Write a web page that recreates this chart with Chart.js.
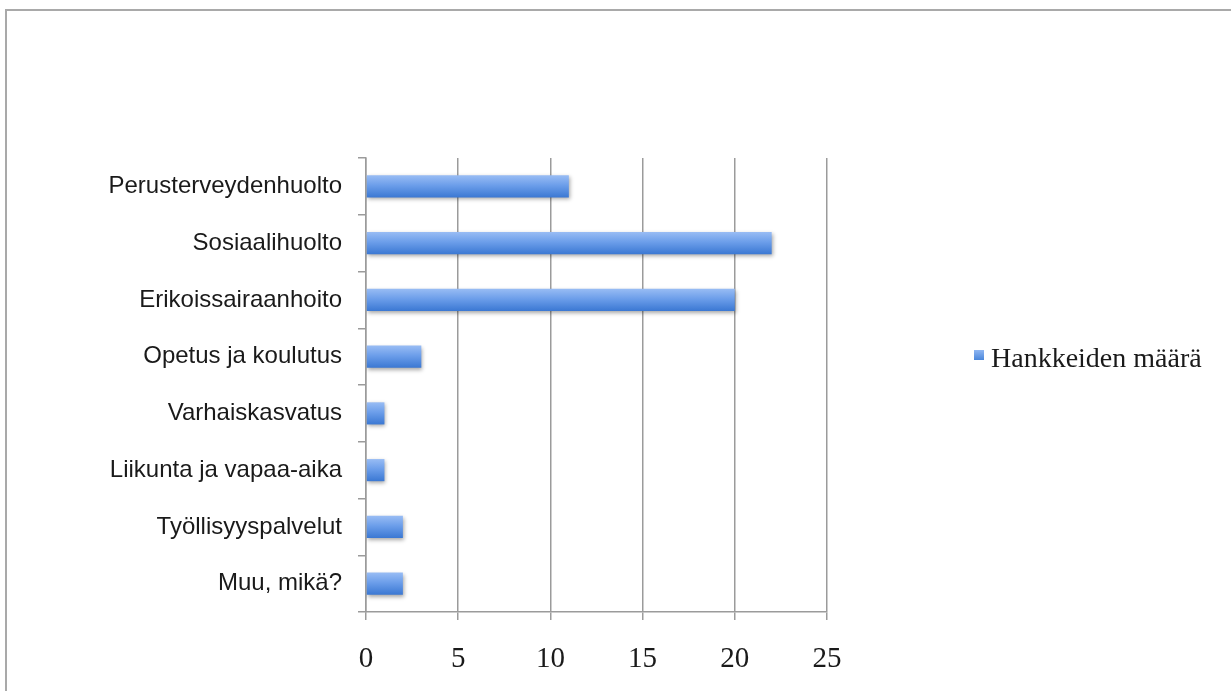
<!DOCTYPE html>
<html>
<head>
<meta charset="utf-8">
<script src="https://cdn.jsdelivr.net/npm/chart.js@4/dist/chart.umd.min.js"></script>
<style>
  html, body { margin: 0; padding: 0; background: #fff; }
  body { width: 1231px; height: 691px; overflow: hidden; position: relative; }
  #frame { position: absolute; left: 5px; top: 9px; width: 1300px; height: 800px;
           border-left: 2px solid #a9a9a9; border-top: 2px solid #a9a9a9; }
  #wrap { position: absolute; left: 0; top: 0; width: 1231px; height: 691px; }
</style>
</head>
<body>
<div id="frame"></div>
<div id="wrap"><canvas id="c" width="1231" height="691"></canvas></div>
<script>
// Hankkeiden määrä toimialoittain
const categories = [
  'Perusterveydenhuolto',
  'Sosiaalihuolto',
  'Erikoissairaanhoito',
  'Opetus ja koulutus',
  'Varhaiskasvatus',
  'Liikunta ja vapaa-aika',
  'Työllisyyspalvelut',
  'Muu, mikä?'
];
const seriesName = 'Hankkeiden määrä';
const counts = [11, 22, 20, 3, 1, 1, 2, 2];
const axisMin = 0;
const axisMax = 25;
const axisStep = 5;

const gridGray = '#9b9b9b';
const serifFont = '"Liberation Serif", "DejaVu Serif", serif';
const sansFont = '"Liberation Sans", Arial, sans-serif';

// vertical gradient for each bar
function barFill(ctx) {
  const chart = ctx.chart;
  const y = chart.scales && chart.scales.y;
  if (!chart.chartArea || !y || ctx.dataIndex === undefined) return '#6a9be6';
  const c = y.getPixelForValue(ctx.dataIndex);
  const half = 11;
  const g = chart.ctx.createLinearGradient(0, c - half, 0, c + half);
  g.addColorStop(0, '#98bcf4');
  g.addColorStop(0.45, '#6c9eea');
  g.addColorStop(1, '#3b78d3');
  return g;
}

// soft drop shadow under the bars
const barShadow = {
  id: 'barShadow',
  beforeDatasetsDraw(chart) {
    const ctx = chart.ctx;
    ctx.save();
    ctx.shadowColor = 'rgba(0,0,0,0.35)';
    ctx.shadowBlur = 4;
    ctx.shadowOffsetX = 1;
    ctx.shadowOffsetY = 2;
  },
  afterDatasetsDraw(chart) {
    chart.ctx.restore();
  }
};

// series key in the right-hand margin
const seriesKey = {
  id: 'seriesKey',
  afterDraw(chart) {
    const ctx = chart.ctx;
    const x = chart.chartArea.right + 147;
    const cy = 355;
    ctx.save();
    const g = ctx.createLinearGradient(0, cy - 5, 0, cy + 5);
    g.addColorStop(0, '#8fb6f2');
    g.addColorStop(1, '#4a86da');
    ctx.fillStyle = g;
    ctx.fillRect(x, cy - 5, 10, 10);
    ctx.fillStyle = '#1a1a1a';
    ctx.font = '28px ' + serifFont;
    ctx.textBaseline = 'alphabetic';
    ctx.textAlign = 'left';
    ctx.fillText(seriesName, x + 17, cy + 12);
    ctx.restore();
  }
};

new Chart(document.getElementById('c'), {
  type: 'bar',
  data: {
    labels: categories,
    datasets: [{
      label: seriesName,
      data: counts,
      backgroundColor: barFill,
      borderWidth: 0,
      categoryPercentage: 1,
      barPercentage: 0.39
    }]
  },
  options: {
    indexAxis: 'y',
    responsive: false,
    animation: false,
    layout: { padding: { left: 0, top: 158, right: 1231 - 827, bottom: 0 } },
    plugins: {
      tooltip: { enabled: false },
      legend: { display: false }
    },
    scales: {
      x: {
        type: 'linear',
        min: axisMin,
        max: axisMax,
        ticks: {
          stepSize: axisStep,
          padding: 22,
          color: '#1a1a1a',
          font: { family: serifFont, size: 29 }
        },
        grid: {
          color: gridGray,
          lineWidth: 1.5,
          tickLength: 8,
          drawTicks: true
        },
        border: { display: true, color: gridGray, width: 1.5 },
        afterFit(scale) { scale.height = 691 - 612; }
      },
      y: {
        type: 'category',
        offset: true,
        ticks: {
          padding: 16,
          color: '#1a1a1a',
          font: { family: sansFont, size: 24 }
        },
        grid: {
          offset: true,
          drawOnChartArea: false,
          drawTicks: true,
          tickLength: 8,
          color: gridGray,
          lineWidth: 1.5
        },
        border: { display: true, color: gridGray, width: 1.5 },
        afterFit(scale) { scale.width = 366; }
      }
    }
  },
  plugins: [barShadow, seriesKey]
});
</script>
</body>
</html>
